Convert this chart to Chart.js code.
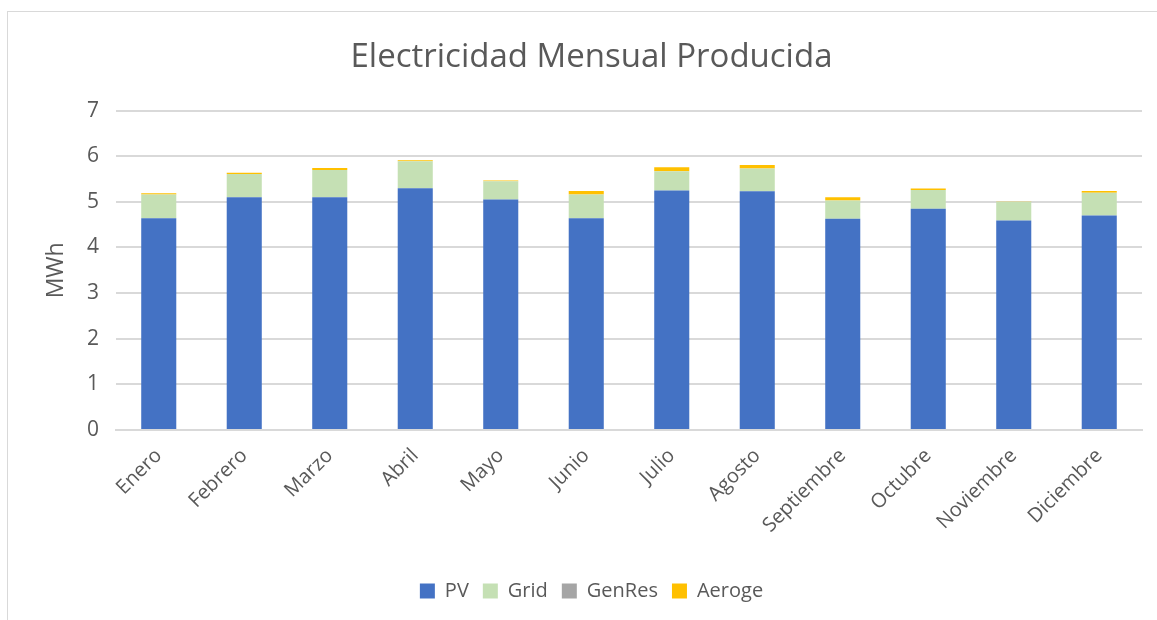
<!DOCTYPE html>
<html>
<head>
<meta charset="utf-8">
<script src="https://cdn.jsdelivr.net/npm/chart.js@4/dist/chart.umd.min.js"></script>
<style>
    body { margin: 0; background: #fff; }
    #wrap { position: relative; width: 1157px; height: 620px; overflow: hidden; }
    #frame { position: absolute; left: 7px; top: 11px; width: 1170px; height: 620px; border: 1px solid #d9d9d9; box-sizing: border-box; }
    #chart { position: absolute; left: 0; top: 0; }
</style>
</head>
<body>
<div id="wrap">
    <div id="frame"></div>
    <!-- canvas runs past the right edge, like the cropped original -->
    <canvas id="chart" width="1175" height="620"></canvas>
</div>
<script>
// Chart data
const months = ['Enero', 'Febrero', 'Marzo', 'Abril', 'Mayo', 'Junio', 'Julio', 'Agosto', 'Septiembre', 'Octubre', 'Noviembre', 'Diciembre'];
const pv = [4.64, 5.10, 5.10, 5.30, 5.05, 4.64, 5.25, 5.23, 4.63, 4.85, 4.59, 4.70];
const grid = [0.52, 0.51, 0.60, 0.59, 0.40, 0.52, 0.42, 0.50, 0.40, 0.41, 0.41, 0.50];
const genRes = [0, 0, 0, 0, 0, 0, 0, 0, 0, 0, 0, 0];
const aeroge = [0.03, 0.03, 0.04, 0.02, 0.02, 0.08, 0.09, 0.08, 0.07, 0.03, 0.01, 0.04];
const yTicks = [0, 1, 2, 3, 4, 5, 6, 7];

const textColor = '#595959';
const gridColor = '#d9d9d9';
const fontFamily = "'Open Sans', 'Noto Sans', sans-serif";

function makeSet(label, data, color) {
    return {
        label: label,
        data: data,
        backgroundColor: color,
        borderWidth: 0,
        categoryPercentage: 1,
        barPercentage: 0.41
    };
}

const ctx = document.getElementById('chart').getContext('2d');
new Chart(ctx, {
    type: 'bar',
    data: {
        labels: months,
        datasets: [
            makeSet('PV', pv, '#4472c4'),
            makeSet('Grid', grid, '#c5e0b4'),
            makeSet('GenRes', genRes, '#a5a5a5'),
            makeSet('Aeroge', aeroge, '#ffc000')
        ]
    },
    options: {
        responsive: false,
        animation: false,
        layout: {
            padding: { left: 8, right: 0, top: 0, bottom: 9 }
        },
        plugins: {
            title: {
                display: true,
                text: 'Electricidad Mensual Producida',
                color: textColor,
                font: { family: fontFamily, size: 33, weight: 'normal' },
                padding: { top: 38, bottom: 33 }
            },
            legend: {
                position: 'bottom',
                labels: {
                    color: textColor,
                    font: { family: fontFamily, size: 20 },
                    boxWidth: 15,
                    boxHeight: 15,
                    padding: 14
                }
            },
            tooltip: { enabled: false }
        },
        scales: {
            x: {
                stacked: true,
                grid: { display: false, drawTicks: false },
                border: { color: gridColor, width: 2 },
                ticks: {
                    color: textColor,
                    font: { family: fontFamily, size: 20 },
                    minRotation: 45,
                    maxRotation: 45,
                    padding: 14
                },
                afterFit: (scale) => { scale.height = 137; }
            },
            y: {
                stacked: true,
                min: 0,
                max: 7,
                afterBuildTicks: (scale) => {
                    scale.ticks = yTicks.map(v => ({ value: v }));
                },
                grid: { color: gridColor, lineWidth: 2, drawTicks: false },
                border: { display: false },
                ticks: {
                    color: textColor,
                    font: { family: fontFamily, size: 21 },
                    padding: 17
                },
                title: {
                    display: true,
                    text: 'MWh',
                    color: textColor,
                    font: { family: fontFamily, size: 23 },
                    padding: { top: 35, bottom: 0 }
                },
                afterFit: (scale) => { scale.width = 108; }
            },
            // empty right-hand margin so the plot ends where the original does
            spacer: {
                position: 'right',
                display: true,
                grid: { display: false },
                border: { display: false },
                ticks: { display: false },
                afterFit: (scale) => { scale.width = 33; }
            }
        }
    }
});
</script>
</body>
</html>
